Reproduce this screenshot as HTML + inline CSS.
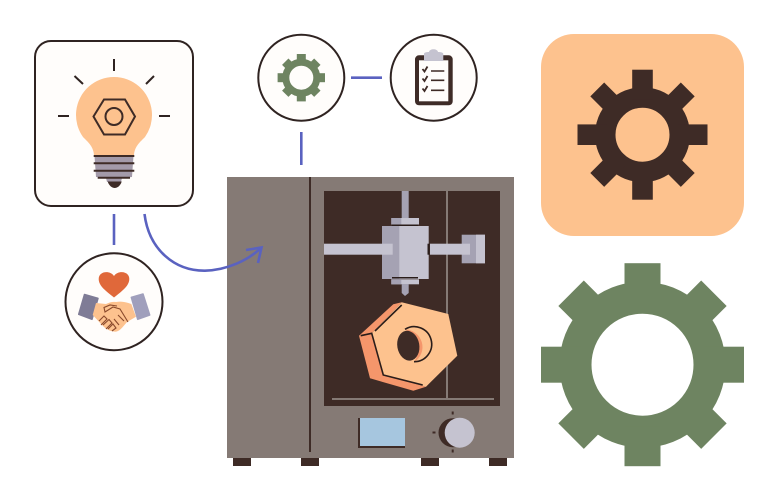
<!DOCTYPE html>
<html>
<head>
<meta charset="utf-8">
<title>3D printing diagram</title>
<style>
html,body{margin:0;padding:0;background:#fff;width:777px;height:500px;overflow:hidden}
svg{display:block}
</style>
</head>
<body>
<svg width="777" height="500" viewBox="0 0 777 500" xmlns="http://www.w3.org/2000/svg">
<rect width="777" height="500" fill="#fff"/>

<!-- Orange tile + dark gear -->
<rect x="541" y="34" width="203" height="202" rx="33" fill="#fdc28e"/>
<g fill="#3e2b26">
  <circle cx="642.500" cy="134.700" r="37.250" fill="none" stroke="#3e2b26" stroke-width="20.500"/>
  <rect x="632.200" y="69.700" width="20.600" height="30"/>
  <rect x="632.700" y="70.700" width="19.600" height="30" transform="rotate(45 642.500 134.700)"/>
  <rect x="632.200" y="69.700" width="20.600" height="30" transform="rotate(90 642.500 134.700)"/>
  <rect x="632.700" y="70.700" width="19.600" height="30" transform="rotate(135 642.500 134.700)"/>
  <rect x="632.200" y="69.700" width="20.600" height="30" transform="rotate(180 642.500 134.700)"/>
  <rect x="632.700" y="70.700" width="19.600" height="30" transform="rotate(225 642.500 134.700)"/>
  <rect x="632.200" y="69.700" width="20.600" height="30" transform="rotate(270 642.500 134.700)"/>
  <rect x="632.700" y="70.700" width="19.600" height="30" transform="rotate(315 642.500 134.700)"/>
</g>

<!-- Large green gear -->
<g fill="#6e8461">
  <circle cx="642.500" cy="364.700" r="67" fill="none" stroke="#6e8461" stroke-width="32"/>
  <rect x="624.500" y="263.200" width="36" height="40"/>
  <rect x="624.500" y="263.700" width="36" height="40" transform="rotate(45 642.500 364.700)"/>
  <rect x="624.500" y="263.200" width="36" height="40" transform="rotate(90 642.500 364.700)"/>
  <rect x="624.500" y="263.700" width="36" height="40" transform="rotate(135 642.500 364.700)"/>
  <rect x="624.500" y="263.200" width="36" height="40" transform="rotate(180 642.500 364.700)"/>
  <rect x="624.500" y="263.700" width="36" height="40" transform="rotate(225 642.500 364.700)"/>
  <rect x="624.500" y="263.200" width="36" height="40" transform="rotate(270 642.500 364.700)"/>
  <rect x="624.500" y="263.700" width="36" height="40" transform="rotate(315 642.500 364.700)"/>
</g>

<!-- Straight connectors -->
<g fill="none" stroke="#5a62c0" stroke-width="2.600">
  <path d="M351 77.700H382"/>
  <path d="M301.300 132V165"/>
  <path d="M114 214V245"/>
</g>

<!-- Bulb box -->
<rect x="35" y="41" width="158" height="165" rx="16" fill="#fffdfb" stroke="#2f2321" stroke-width="2"/>
<g stroke="#2f2321" stroke-width="2" fill="none">
  <path d="M114 59V71M58 116H69M159 116H170M74.500 76L83 84M154 76L146 84"/>
</g>
<path d="M94 156C94 147 88 142 83 137A38 38 0 1 1 145 137C140 142 134 147 134 156Z" fill="#fdc28e"/>
<path d="M94.500 156H133.500L132 177L122 178L121 182H107L106 178L96 177Z" fill="#a39aa9"/>
<path d="M107.700 181.500H121.700C120.500 186 117 188 114.700 188C112.400 188 109 186 107.700 181.500Z" fill="#3e2b26"/>
<g stroke="#3e2b26" stroke-width="2" fill="none">
  <path d="M93.700 156H134.300M93.700 163.300H134.300M93.700 170.700H134.300M97.700 177.700H130"/>
  <polygon points="93.500,116.500 104,99.500 125,99.500 135,116.500 125,134.500 104,134.500"/>
  <circle cx="114" cy="116.500" r="8.500"/>
</g>

<!-- Handshake circle -->
<circle cx="114" cy="301.700" r="48.500" fill="#fffdfb" stroke="#2f2321" stroke-width="2"/>
<path d="M114 297.500C106 291 98.700 286 98.700 279C98.700 271 110 270 114 276C118 270 129.300 271 129.300 279C129.300 286 122 291 114 297.500Z" fill="#e0683a"/>
<polygon points="84.500,294.500 98,298.300 92,319.300 78.700,314.300" fill="#7f7c96" stroke="#7f7c96" stroke-width="1.500" stroke-linejoin="round"/>
<polygon points="131.300,297.300 143,294 149.700,315 137.700,319.300" fill="#a09fbc" stroke="#a09fbc" stroke-width="1.500" stroke-linejoin="round"/>
<path d="M96 303L106 304C110 302 113 301.500 116 302C121 301 126 302 131.300 304L136 316.700L127 322C122 328 119 331.700 115.300 331.700C111 331.500 107 330 103 326L92.700 315Z" fill="#fdc28e"/>
<g fill="none" stroke="#8a4a2c" stroke-width="1.100">
  <path d="M128 322L120 309L113 307L105 312L104 307.500L110 305L117 306"/>
  <path d="M99 321L104 316L107 319L101 325M103 325L109 319.500L112 323L106 329M108 329L113 324L116 328L112 331"/>
  <path d="M119 325L114 319M124 321L118 315"/>
</g>

<!-- Gear circle -->
<circle cx="301.300" cy="77.700" r="43" fill="#fffdfb" stroke="#2f2321" stroke-width="2"/>
<g fill="#6e8461">
  <circle cx="301.300" cy="77.700" r="15.500" fill="none" stroke="#6e8461" stroke-width="7"/>
  <rect x="296.800" y="54" width="9" height="8"/>
  <rect x="296.800" y="55" width="9" height="8" transform="rotate(45 301.300 77.700)"/>
  <rect x="296.800" y="54" width="9" height="8" transform="rotate(90 301.300 77.700)"/>
  <rect x="296.800" y="55" width="9" height="8" transform="rotate(135 301.300 77.700)"/>
  <rect x="296.800" y="54" width="9" height="8" transform="rotate(180 301.300 77.700)"/>
  <rect x="296.800" y="55" width="9" height="8" transform="rotate(225 301.300 77.700)"/>
  <rect x="296.800" y="54" width="9" height="8" transform="rotate(270 301.300 77.700)"/>
  <rect x="296.800" y="55" width="9" height="8" transform="rotate(315 301.300 77.700)"/>
</g>

<!-- Clipboard circle -->
<circle cx="433.700" cy="77.700" r="43" fill="#fffdfb" stroke="#2f2321" stroke-width="2"/>
<rect x="415" y="55.300" width="37.700" height="50" rx="4" fill="#3e2b26"/>
<rect x="419" y="60.300" width="29.300" height="41" fill="#fffdfb"/>
<path d="M424 61V54C424 52.500 426 52 429 52C429.500 48.300 437.500 48.300 438 52C441 52 443.300 52.500 443.300 54V61Z" fill="#c5c3d0"/>
<g fill="none" stroke="#3e2b26" stroke-width="1.600">
  <path d="M431 71H444.300M431 80.300H444.300M431 90.300H444.300"/>
  <path d="M422.500 69L424.500 71.500L427.500 66.500M422.500 78.500L424.500 81L427.500 76M422.500 88.500L424.500 91L427.500 86" stroke-width="1.800"/>
</g>

<!-- Printer body -->
<rect x="233" y="458" width="18" height="8" fill="#3e2b26"/>
<rect x="301" y="458" width="18" height="8" fill="#3e2b26"/>
<rect x="421" y="458" width="18" height="8" fill="#3e2b26"/>
<rect x="489" y="458" width="18" height="8" fill="#3e2b26"/>
<rect x="227" y="177" width="287" height="281" fill="#857a75"/>
<rect x="309" y="177" width="2" height="275" fill="#3e2b26"/>
<rect x="324" y="191" width="176" height="215" fill="#3e2b26"/>
<rect x="446" y="191" width="2" height="207" fill="#857a75"/>
<rect x="332" y="398" width="162" height="2" fill="#857a75"/>

<!-- Extruder -->
<rect x="401.700" y="191" width="7" height="27" fill="#a5a2b3"/>
<rect x="391.300" y="218" width="27.700" height="6.500" fill="#c5c3d0"/>
<rect x="391.300" y="218" width="10" height="6.500" fill="#a5a2b3"/>
<rect x="392" y="224.500" width="26" height="1.500" fill="#2a1d1a"/>
<rect x="382" y="226" width="46.700" height="53" fill="#c5c3d0"/>
<rect x="382" y="226" width="17.300" height="53" fill="#a5a2b3"/>
<rect x="392" y="277" width="26" height="1.500" fill="#2a1d1a"/>
<rect x="391.300" y="279.300" width="27.700" height="5" fill="#c5c3d0"/>
<rect x="391.300" y="279.300" width="10" height="5" fill="#a5a2b3"/>
<polygon points="401.700,284 408.700,284 408.700,293 405,296 401.700,293" fill="#a5a2b3"/>
<rect x="324" y="243.700" width="68.700" height="11" fill="#c5c3d0"/>
<rect x="461.700" y="234.700" width="23.300" height="28.600" fill="#a5a2b3"/>
<rect x="476" y="234.700" width="9" height="28.600" fill="#c5c3d0"/>
<rect x="430" y="243.700" width="40" height="11" fill="#c5c3d0"/>
<rect x="427.500" y="243.700" width="2" height="11" fill="#2a1d1a"/>

<!-- Nut -->
<polygon points="401.700,302.300 393.300,304.300 359,335.700 370,378.300 413.300,390.700 426,386.700 383.300,375 371.700,333.300" fill="#f5966b"/>
<polygon points="401.700,302.300 448.300,314 457.300,355.700 426,386.700 383.300,375 371.700,333.300" fill="#fdc28e"/>
<path d="M405 329.500A17.500 17.500 0 0 1 414 362C421 352 419 338 405 329.500Z" fill="#f5966b"/>
<ellipse cx="408.300" cy="345.700" rx="11" ry="15" transform="rotate(-10 408.300 345.700)" fill="#3e2b26"/>
<g fill="none" stroke="#2a1d1a" stroke-width="1.600">
  <path d="M401.700 305L375 331"/>
  <path d="M360.700 335.700L371.700 333.300L383.300 375L422.700 385"/>
  <path d="M405 329.300A17.500 17.500 0 1 1 414 361.700"/>
</g>

<!-- Controls -->
<rect x="358" y="418" width="47" height="30" fill="#3e2b26"/>
<rect x="360" y="418" width="45" height="28" fill="#a6c6df"/>
<circle cx="453" cy="432.700" r="14.500" fill="#3e2b26"/>
<circle cx="459.700" cy="432.700" r="15" fill="#c5c3d0"/>
<rect x="451.700" y="411.500" width="2" height="3" fill="#3e2b26"/>
<rect x="451.700" y="449.500" width="2" height="3" fill="#3e2b26"/>
<rect x="432.500" y="431.500" width="3" height="2" fill="#3e2b26"/>

<!-- Curved arrow drawn above printer body -->
<g fill="none" stroke="#5a62c0" stroke-width="2.600">
  <path d="M144.500 214C149 250 175 271 205 270.700C228 270 248 260 261 248"/>
  <path d="M246 250L261.500 247.500L258 263"/>
</g>
</svg>
</body>
</html>
